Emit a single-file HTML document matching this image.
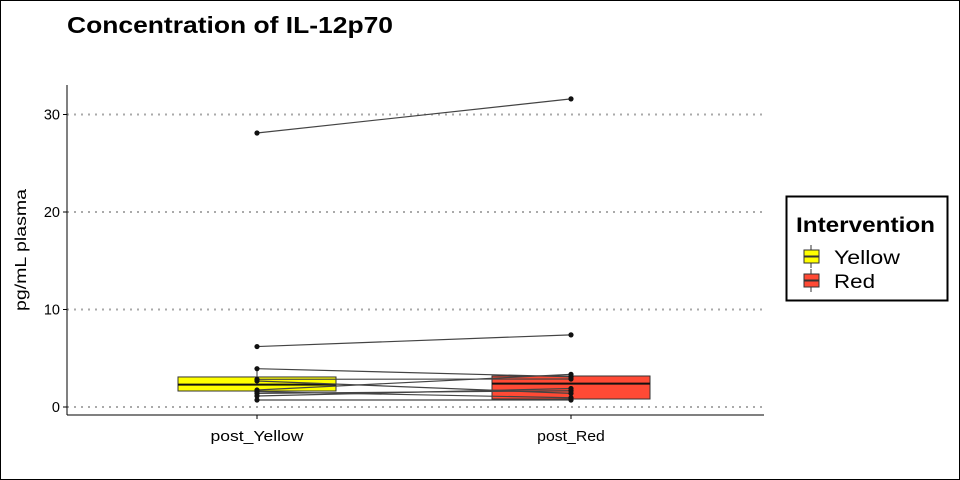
<!DOCTYPE html>
<html><head><meta charset="utf-8"><style>
html,body{margin:0;padding:0;background:#fff}
svg{display:block;font-family:"Liberation Sans",Arial,sans-serif}
</style></head><body>
<svg id="chart" width="960" height="480" viewBox="0 0 960 480">
<rect x="0.5" y="0.5" width="959" height="479" fill="#fff" stroke="#000"/>
<text x="67" y="33" font-size="23" font-weight="bold" textLength="326" lengthAdjust="spacingAndGlyphs">Concentration of IL-12p70</text>
<g id="grid"></g>
<g id="marks"></g>
<line x1="67" y1="85" x2="67" y2="415" stroke="#000"/>
<line x1="67" y1="415" x2="764" y2="415" stroke="#000"/>
<g id="axes"></g>
<text transform="translate(26,250) rotate(-90)" text-anchor="middle" font-size="16" textLength="122" lengthAdjust="spacingAndGlyphs">pg/mL plasma</text>
<g>
<rect x="786.5" y="196.5" width="161" height="104" fill="#fff" stroke="#000" stroke-width="2"/>
<text x="796" y="232" font-size="21" font-weight="bold" textLength="139" lengthAdjust="spacingAndGlyphs">Intervention</text>
<g>
<line x1="811" y1="245" x2="811" y2="268" stroke="#333"/>
<rect x="804" y="250" width="15" height="13" fill="#ffff00" stroke="#333"/>
<line x1="804" y1="256.5" x2="819" y2="256.5" stroke="#333" stroke-width="2"/>
<text x="834" y="264" font-size="19" textLength="66" lengthAdjust="spacingAndGlyphs">Yellow</text></g>
<g>
<line x1="811" y1="269" x2="811" y2="292" stroke="#333"/>
<rect x="804" y="274" width="15" height="13" fill="#ff4a35" stroke="#333"/>
<line x1="804" y1="280.5" x2="819" y2="280.5" stroke="#333" stroke-width="2"/>
<text x="834" y="288" font-size="19" textLength="41" lengthAdjust="spacingAndGlyphs">Red</text></g>
</g>
</svg>
<script>
const categories = ["post_Yellow", "post_Red"];
const yellowValues = [28.1, 6.2, 3.93, 2.84, 2.67, 1.74, 1.57, 1.4, 1.13, 0.72];
const redValues = [31.6, 7.4, 3.1, 2.87, 1.4, 3.35, 0.95, 1.67, 1.9, 0.72];
const boxYellow = [1.64, 2.3, 3.08];
const boxRed = [0.82, 2.4, 3.18];
const yTicks = [0, 10, 20, 30];
const colors = ["#ffff00", "#ff4a35"];

const NS = "http://www.w3.org/2000/svg";
const y = v => 407 - v * 9.75;
const x = i => 257 + i * 314;
function mk(tag, attrs, parent){const e=document.createElementNS(NS,tag);for(const k in attrs)e.setAttribute(k,attrs[k]);parent.appendChild(e);return e;}
const grid=document.getElementById("grid"), marks=document.getElementById("marks"), axes=document.getElementById("axes");
yTicks.forEach(t=>{
  const g=mk("line",{x1:67,x2:764,y1:y(t),y2:y(t),stroke:"#aaa","stroke-width":2,"stroke-dasharray":"2,5"},grid);
  
  
  const tk=mk("line",{x1:63,x2:67,y1:y(t),y2:y(t),stroke:"#000"},axes);
  
  
  const lb=mk("text",{x:60,y:y(t)+5,"text-anchor":"end","font-size":14.5},axes);
  lb.textContent=t;
  
  
});
categories.forEach((c,i)=>{
  const tk=mk("line",{x1:x(i),x2:x(i),y1:415,y2:419,stroke:"#000"},axes);
  
  
  const lb=mk("text",{x:x(i),y:441,"text-anchor":"middle","font-size":14.5,textLength:c.length*8.45,lengthAdjust:"spacingAndGlyphs"},axes);
  lb.textContent=c;
  
  
});
[boxYellow, boxRed].forEach((b,i)=>{
  const vals = i===0 ? yellowValues : redValues;
  const inRange = vals.filter(v=>v<=b[2]+1.5*(b[2]-b[0]));
  const wmax=Math.max(...inRange), wmin=Math.min(...vals);
  const w=mk("line",{x1:x(i),x2:x(i),y1:y(wmax),y2:y(wmin),stroke:"#333"},marks);
  
  
  const r=mk("rect",{x:x(i)-79,width:158,y:y(b[2]),height:y(b[0])-y(b[2]),fill:colors[i],stroke:"#333"},marks);
  
  
  const m=mk("line",{x1:x(i)-79,x2:x(i)+79,y1:y(b[1]),y2:y(b[1]),stroke:"#111","stroke-width":2},marks);
  
  
});
yellowValues.forEach((v,k)=>{
  const l=mk("line",{x1:x(0),y1:y(v),x2:x(1),y2:y(redValues[k]),stroke:"#444","stroke-width":1.2},marks);
  
  
});
[yellowValues, redValues].forEach((vals,i)=>vals.forEach(v=>{
  const p=mk("circle",{cx:x(i),cy:y(v),r:2.6,fill:"#111"},marks);
  
  
}));
</script>
</body></html>
